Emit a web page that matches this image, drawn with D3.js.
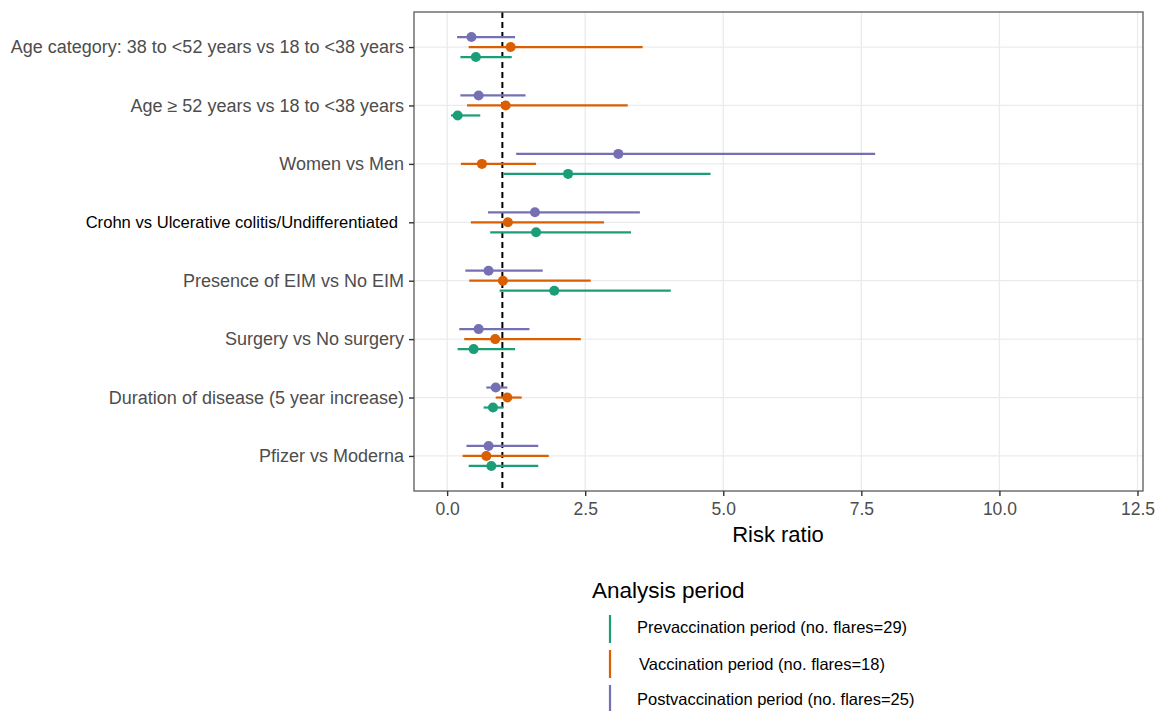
<!DOCTYPE html>
<html>
<head>
<meta charset="utf-8">
<script src="https://cdn.jsdelivr.net/npm/d3@7"></script>
<style>
  body { margin: 0; background: #fff; }
  svg { font-family: "Liberation Sans", Arial, sans-serif; }
</style>
</head>
<body>
<div id="chart"></div>
<script>
// categories, top to bottom
const categories = [
  "Age category: 38 to <52 years vs 18 to <38 years",
  "Age \u2265 52 years vs 18 to <38 years",
  "Women vs Men",
  "Crohn vs Ulcerative colitis/Undifferentiated",
  "Presence of EIM vs No EIM",
  "Surgery vs No surgery",
  "Duration of disease (5 year increase)",
  "Pfizer vs Moderna"
];

const periods = ["Prevaccination", "Vaccination", "Postvaccination"];
const periodLabels = [
  "Prevaccination period (no. flares=29)",
  "Vaccination period (no. flares=18)",
  "Postvaccination period (no. flares=25)"
];
const periodColors = ["#1b9e77", "#d95f02", "#7570b3"];

// risk ratio estimates and 95% CI, per category
const preRR    = [0.52, 0.19, 2.19, 1.61, 1.94, 0.48, 0.83, 0.80];
const preLow   = [0.24, 0.07, 1.02, 0.78, 0.95, 0.19, 0.66, 0.39];
const preHigh  = [1.17, 0.60, 4.77, 3.33, 4.05, 1.23, 1.02, 1.65];

const vacRR    = [1.15, 1.06, 0.63, 1.10, 1.01, 0.87, 1.09, 0.71];
const vacLow   = [0.39, 0.36, 0.25, 0.43, 0.40, 0.31, 0.88, 0.28];
const vacHigh  = [3.54, 3.27, 1.61, 2.84, 2.60, 2.42, 1.35, 1.84];

const postRR   = [0.44, 0.57, 3.10, 1.59, 0.75, 0.57, 0.88, 0.75];
const postLow  = [0.18, 0.24, 1.25, 0.74, 0.33, 0.22, 0.71, 0.35];
const postHigh = [1.23, 1.42, 7.75, 3.49, 1.73, 1.49, 1.09, 1.65];

const xTicks = [0, 2.5, 5, 7.5, 10, 12.5];

const rows = [];
const series = [[preRR, preLow, preHigh], [vacRR, vacLow, vacHigh], [postRR, postLow, postHigh]];
series.forEach((s, p) => {
  categories.forEach((c, i) => {
    rows.push({ cat: c, period: periods[p], rr: s[0][i], lo: s[1][i], hi: s[2][i] });
  });
});

const W = 1156, H = 711;
const pLeft = 414, pRight = 1143, pTop = 12, pBottom = 491;

const svg = d3.select("#chart").append("svg")
  .attr("width", W)
  .attr("height", H);

const x = d3.scaleLinear().domain([-0.6, 12.6]).range([pLeft, pRight]);
const y = d3.scalePoint().domain(categories).range([pTop, pBottom]).padding(0.6);
const dodge = d3.scalePoint().domain(periods).range([10, -10]);
const color = d3.scaleOrdinal().domain(periods).range(periodColors);

// grid
svg.append("g").selectAll("line.vg")
  .data(xTicks)
  .enter().append("line")
  .attr("x1", d => x(d)).attr("x2", d => x(d))
  .attr("y1", pTop).attr("y2", pBottom)
  .attr("stroke", "#ebebeb").attr("stroke-width", 1.3);

svg.append("g").selectAll("line.hg")
  .data(categories)
  .enter().append("line")
  .attr("x1", pLeft).attr("x2", pRight)
  .attr("y1", d => y(d)).attr("y2", d => y(d))
  .attr("stroke", "#ebebeb").attr("stroke-width", 1.3);

// reference line at 1
svg.append("line")
  .attr("x1", x(1)).attr("x2", x(1))
  .attr("y1", pTop).attr("y2", pBottom)
  .attr("stroke", "#000").attr("stroke-width", 2)
  .attr("stroke-dasharray", "6,4");

// CI lines
const g = svg.append("g");
g.selectAll("line.ci")
  .data(rows)
  .enter().append("line")
  .attr("x1", d => x(d.lo)).attr("x2", d => x(d.hi))
  .attr("y1", d => y(d.cat) + dodge(d.period))
  .attr("y2", d => y(d.cat) + dodge(d.period))
  .attr("stroke", d => color(d.period))
  .attr("stroke-width", 2.2);

g.selectAll("circle")
  .data(rows)
  .enter().append("circle")
  .attr("cx", d => x(d.rr))
  .attr("cy", d => y(d.cat) + dodge(d.period))
  .attr("r", 5)
  .attr("fill", d => color(d.period));

// panel border
svg.append("rect")
  .attr("x", pLeft).attr("y", pTop)
  .attr("width", pRight - pLeft).attr("height", pBottom - pTop)
  .attr("fill", "none").attr("stroke", "#666").attr("stroke-width", 1.4);

// axes
const xAxis = svg.append("g")
  .attr("transform", `translate(0,${pBottom})`)
  .call(d3.axisBottom(x).tickValues(xTicks).tickFormat(d3.format(".1f")).tickSize(5).tickPadding(7));
const yAxis = svg.append("g")
  .attr("transform", `translate(${pLeft},0)`)
  .call(d3.axisLeft(y).tickSize(5).tickPadding(5));

[xAxis, yAxis].forEach(a => {
  a.select(".domain").remove();
  a.selectAll(".tick line").attr("stroke", "#333").attr("stroke-width", 1.4);
});
xAxis.selectAll("text")
  .style("font-size", "17.5px").attr("fill", "#4d4d4d");
yAxis.selectAll("text")
  .style("font-size", "18px").attr("fill", "#4d4d4d");
// the Crohn label is set differently in the original
yAxis.selectAll(".tick text")
  .filter(d => d === categories[3])
  .attr("fill", "#000")
  .style("font-size", "16.6px")
  .attr("dx", -6);

svg.append("text")
  .attr("x", 778)
  .attr("y", 542)
  .attr("text-anchor", "middle")
  .style("font-size", "22px")
  .attr("fill", "#000")
  .text("Risk ratio");

// legend
const legend = svg.append("g");
legend.append("text")
  .attr("x", 592).attr("y", 598)
  .style("font-size", "22.5px")
  .attr("fill", "#000")
  .text("Analysis period");

const keyTop = [615, 650, 685];
const keys = legend.selectAll("g.key")
  .data(periods)
  .enter().append("g");
keys.append("line")
  .attr("x1", 610).attr("x2", 610)
  .attr("y1", (d, i) => keyTop[i]).attr("y2", (d, i) => keyTop[i] + 28)
  .attr("stroke", d => color(d))
  .attr("stroke-width", 2.2);
keys.append("text")
  .attr("x", (d, i) => i === 1 ? 639 : 637)
  .attr("y", (d, i) => [633, 670, 705][i])
  .style("font-size", "16.5px")
  .attr("fill", "#000")
  .text((d, i) => periodLabels[i]);
</script>
</body>
</html>
